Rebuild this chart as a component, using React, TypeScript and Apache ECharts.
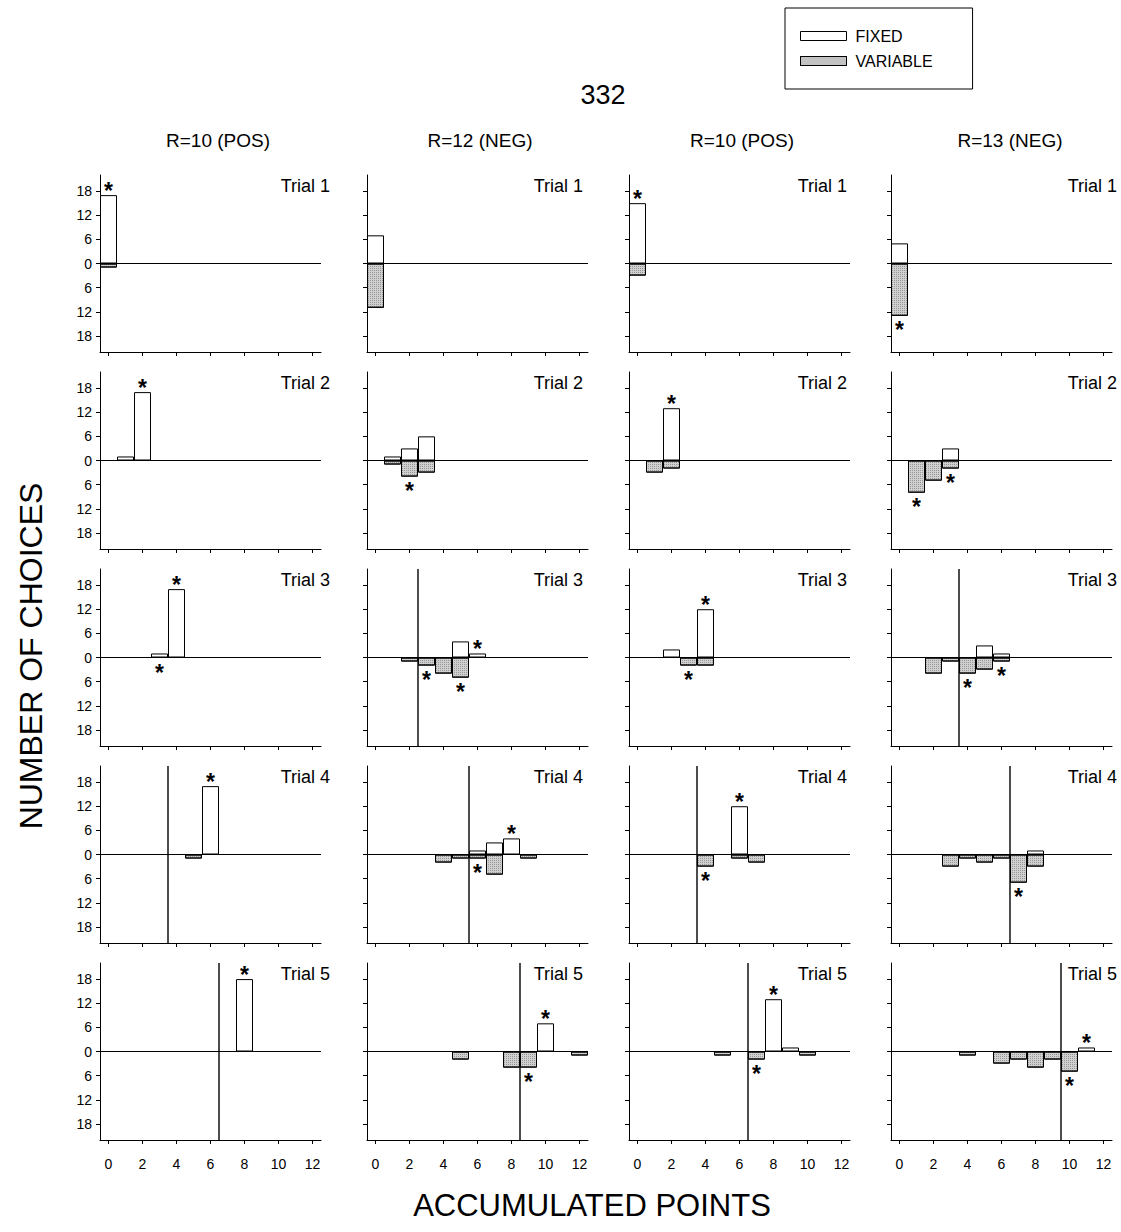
import React, { useEffect, useRef } from 'react';
import * as echarts from 'echarts';

const X_CATEGORIES = ['0', '1', '2', '3', '4', '5', '6', '7', '8', '9', '10', '11', '12'];
const Y_TICKS = [-18, -12, -6, 0, 6, 12, 18];
const Y_MIN = -22;
const Y_MAX = 22;
const MAIN_TITLE = '332';
const COLUMN_TITLES = ['R=10 (POS)', 'R=12 (NEG)', 'R=10 (POS)', 'R=13 (NEG)'];
const TRIAL_LABELS = ['Trial 1', 'Trial 2', 'Trial 3', 'Trial 4', 'Trial 5'];
const X_NAME = 'ACCUMULATED POINTS';
const Y_NAME = 'NUMBER OF CHOICES';
const LEGEND_NAMES = ['FIXED', 'VARIABLE'];

// ---- Column 1: R=10 (POS) ----
const FIXED_C1 = [
  [17, 0, 0, 0, 0, 0, 0, 0, 0, 0, 0, 0, 0],
  [0, 1, 17, 0, 0, 0, 0, 0, 0, 0, 0, 0, 0],
  [0, 0, 0, 1, 17, 0, 0, 0, 0, 0, 0, 0, 0],
  [0, 0, 0, 0, 0, 0, 17, 0, 0, 0, 0, 0, 0],
  [0, 0, 0, 0, 0, 0, 0, 0, 18, 0, 0, 0, 0],
];
const VARIABLE_C1 = [
  [1, 0, 0, 0, 0, 0, 0, 0, 0, 0, 0, 0, 0],
  [0, 0, 0, 0, 0, 0, 0, 0, 0, 0, 0, 0, 0],
  [0, 0, 0, 0, 0, 0, 0, 0, 0, 0, 0, 0, 0],
  [0, 0, 0, 0, 0, 1, 0, 0, 0, 0, 0, 0, 0],
  [0, 0, 0, 0, 0, 0, 0, 0, 0, 0, 0, 0, 0],
];
const STARS_ABOVE_C1 = [[0], [2], [4], [6], [8]];
const STARS_BELOW_C1 = [[], [], [3], [], []];
const CRITERION_C1 = [null, null, null, 3.5, 6.5];

// ---- Column 2: R=12 (NEG) ----
const FIXED_C2 = [
  [7, 0, 0, 0, 0, 0, 0, 0, 0, 0, 0, 0, 0],
  [0, 1, 3, 6, 0, 0, 0, 0, 0, 0, 0, 0, 0],
  [0, 0, 0, 0, 0, 4, 1, 0, 0, 0, 0, 0, 0],
  [0, 0, 0, 0, 0, 0, 1, 3, 4, 0, 0, 0, 0],
  [0, 0, 0, 0, 0, 0, 0, 0, 0, 0, 7, 0, 0],
];
const VARIABLE_C2 = [
  [11, 0, 0, 0, 0, 0, 0, 0, 0, 0, 0, 0, 0],
  [0, 1, 4, 3, 0, 0, 0, 0, 0, 0, 0, 0, 0],
  [0, 0, 1, 2, 4, 5, 0, 0, 0, 0, 0, 0, 0],
  [0, 0, 0, 0, 2, 1, 1, 5, 0, 1, 0, 0, 0],
  [0, 0, 0, 0, 0, 2, 0, 0, 4, 4, 0, 0, 1],
];
const STARS_ABOVE_C2 = [[], [], [6], [8], [10]];
const STARS_BELOW_C2 = [[], [2], [3, 5], [6], [9]];
const CRITERION_C2 = [null, null, 2.5, 5.5, 8.5];

// ---- Column 3: R=10 (POS) ----
const FIXED_C3 = [
  [15, 0, 0, 0, 0, 0, 0, 0, 0, 0, 0, 0, 0],
  [0, 0, 13, 0, 0, 0, 0, 0, 0, 0, 0, 0, 0],
  [0, 0, 2, 0, 12, 0, 0, 0, 0, 0, 0, 0, 0],
  [0, 0, 0, 0, 0, 0, 12, 0, 0, 0, 0, 0, 0],
  [0, 0, 0, 0, 0, 0, 0, 0, 13, 1, 0, 0, 0],
];
const VARIABLE_C3 = [
  [3, 0, 0, 0, 0, 0, 0, 0, 0, 0, 0, 0, 0],
  [0, 3, 2, 0, 0, 0, 0, 0, 0, 0, 0, 0, 0],
  [0, 0, 0, 2, 2, 0, 0, 0, 0, 0, 0, 0, 0],
  [0, 0, 0, 0, 3, 0, 1, 2, 0, 0, 0, 0, 0],
  [0, 0, 0, 0, 0, 1, 0, 2, 0, 0, 1, 0, 0],
];
const STARS_ABOVE_C3 = [[0], [2], [4], [6], [8]];
const STARS_BELOW_C3 = [[], [], [3], [4], [7]];
const CRITERION_C3 = [null, null, null, 3.5, 6.5];

// ---- Column 4: R=13 (NEG) ----
const FIXED_C4 = [
  [5, 0, 0, 0, 0, 0, 0, 0, 0, 0, 0, 0, 0],
  [0, 0, 0, 3, 0, 0, 0, 0, 0, 0, 0, 0, 0],
  [0, 0, 0, 0, 0, 3, 1, 0, 0, 0, 0, 0, 0],
  [0, 0, 0, 0, 0, 0, 0, 0, 1, 0, 0, 0, 0],
  [0, 0, 0, 0, 0, 0, 0, 0, 0, 0, 0, 1, 0],
];
const VARIABLE_C4 = [
  [13, 0, 0, 0, 0, 0, 0, 0, 0, 0, 0, 0, 0],
  [0, 8, 5, 2, 0, 0, 0, 0, 0, 0, 0, 0, 0],
  [0, 0, 4, 1, 4, 3, 1, 0, 0, 0, 0, 0, 0],
  [0, 0, 0, 3, 1, 2, 1, 7, 3, 0, 0, 0, 0],
  [0, 0, 0, 0, 1, 0, 3, 2, 4, 2, 5, 0, 0],
];
const STARS_ABOVE_C4 = [[], [], [], [], [11]];
const STARS_BELOW_C4 = [[0], [1, 3], [4, 6], [7], [10]];
const CRITERION_C4 = [null, null, 3.5, 6.5, 9.5];

const FIXED = [FIXED_C1, FIXED_C2, FIXED_C3, FIXED_C4];
const VARIABLE = [VARIABLE_C1, VARIABLE_C2, VARIABLE_C3, VARIABLE_C4];
const STARS_ABOVE = [STARS_ABOVE_C1, STARS_ABOVE_C2, STARS_ABOVE_C3, STARS_ABOVE_C4];
const STARS_BELOW = [STARS_BELOW_C1, STARS_BELOW_C2, STARS_BELOW_C3, STARS_BELOW_C4];
const CRITERION = [CRITERION_C1, CRITERION_C2, CRITERION_C3, CRITERION_C4];

// ---- layout / style ----
const FONT = "'Liberation Sans', Arial, Helvetica, sans-serif";
const GRID_LEFT = [100, 367, 629, 891];
const GRID_TOP = [175, 372, 569, 766, 963];
const GRID_W = 221;
const GRID_H = 177;
const TRIAL_X = [330, 583, 847, 1117];
const COL_TITLE_X = [218, 480, 742, 1010];
const VAR_COLOR = '#d0d0d0';
const VAR_DECAL = {
  symbol: 'rect',
  symbolSize: 1,
  color: 'rgba(0,0,0,0.28)',
  dashArrayX: [1, 1],
  dashArrayY: [1, 1],
  rotation: 0,
};

function buildOption() {
  const grid: any[] = [];
  const xAxis: any[] = [];
  const xAxisHidden: any[] = [];
  const yAxis: any[] = [];
  const series: any[] = [];
  const graphic: any[] = [];

  for (let r = 0; r < 5; r++) {
    for (let c = 0; c < 4; c++) {
      const idx = r * 4 + c;
      grid.push({ left: GRID_LEFT[c], top: GRID_TOP[r], width: GRID_W, height: GRID_H, containLabel: false });
      xAxis.push({
        type: 'category',
        gridIndex: idx,
        data: X_CATEGORIES,
        boundaryGap: true,
        axisLine: { show: true, onZero: false, lineStyle: { color: '#000', width: 1 } },
        axisTick: { show: true, interval: 1, alignWithLabel: true, length: 4, lineStyle: { color: '#000' } },
        axisLabel: { show: r === 4, interval: 1, fontSize: 14, color: '#000', margin: 17, fontFamily: FONT },
        splitLine: { show: false },
      });
      xAxisHidden.push({ type: 'value', gridIndex: idx, min: -0.5, max: 12.5, show: false });
      yAxis.push({
        type: 'value',
        gridIndex: idx,
        min: Y_MIN,
        max: Y_MAX,
        axisLine: { show: true, onZero: false, lineStyle: { color: '#000', width: 1 } },
        axisTick: { show: true, customValues: Y_TICKS, length: 4, lineStyle: { color: '#000' } },
        axisLabel: {
          show: c === 0,
          customValues: Y_TICKS,
          formatter: (v: number) => String(Math.abs(v)),
          fontSize: 14,
          color: '#000',
          margin: 8,
          fontFamily: FONT,
        },
        splitLine: { show: false },
      });

      const fixedVals = FIXED[c][r];
      const varVals = VARIABLE[c][r];
      const above = STARS_ABOVE[c][r];
      const below = STARS_BELOW[c][r];

      const fixedData = fixedVals.map((v, j) => {
        const star = above.includes(j);
        if (!star && v === 0) return '-';
        return star
          ? {
              value: v,
              label: {
                show: true,
                position: 'top',
                formatter: '*',
                fontSize: 23,
                fontWeight: 'bold',
                color: '#000',
                fontFamily: FONT,
                distance: -7,
              },
            }
          : v;
      });
      const varData = varVals.map((v, j) => {
        const star = below.includes(j);
        if (!star && v === 0) return '-';
        return star
          ? {
              value: -v,
              label: {
                show: true,
                position: 'bottom',
                formatter: '*',
                fontSize: 23,
                fontWeight: 'bold',
                color: '#000',
                fontFamily: FONT,
                distance: 3,
              },
            }
          : -v;
      });

      series.push({
        type: 'bar',
        name: 'FIXED',
        xAxisIndex: idx,
        yAxisIndex: idx,
        data: fixedData,
        barWidth: '100%',
        barGap: '-100%',
        itemStyle: { color: '#ffffff', borderColor: '#000', borderWidth: 1 },
        label: { show: false },
        silent: true,
        z: 2,
        markLine: {
          silent: true,
          symbol: ['none', 'none'],
          label: { show: false },
          lineStyle: { color: '#000', width: 1, type: 'solid' },
          data: [{ yAxis: 0 }],
          z: 3,
        },
      });
      series.push({
        type: 'bar',
        name: 'VARIABLE',
        xAxisIndex: idx,
        yAxisIndex: idx,
        data: varData,
        barWidth: '100%',
        barGap: '-100%',
        itemStyle: { color: VAR_COLOR, borderColor: '#000', borderWidth: 1, decal: VAR_DECAL },
        label: { show: false },
        silent: true,
        z: 2,
      });

      const crit = CRITERION[c][r];
      if (crit !== null) {
        series.push({
          type: 'line',
          xAxisIndex: 20 + idx,
          yAxisIndex: idx,
          data: [
            [crit, Y_MIN],
            [crit, Y_MAX],
          ],
          symbol: 'none',
          silent: true,
          lineStyle: { color: '#000', width: 1.4 },
          z: 4,
        });
      }

      graphic.push({
        type: 'text',
        x: TRIAL_X[c],
        y: GRID_TOP[r] + 11,
        style: {
          text: TRIAL_LABELS[r],
          fontSize: 18,
          fontFamily: FONT,
          fill: '#000',
          align: 'right',
          verticalAlign: 'middle',
        },
      });
    }
  }

  COLUMN_TITLES.forEach((t, c) => {
    graphic.push({
      type: 'text',
      x: COL_TITLE_X[c],
      y: 140,
      style: { text: t, fontSize: 19, fontFamily: FONT, fill: '#000', align: 'center', verticalAlign: 'middle' },
    });
  });
  graphic.push({
    type: 'text',
    x: 603,
    y: 95,
    style: { text: MAIN_TITLE, fontSize: 27, fontFamily: FONT, fill: '#000', align: 'center', verticalAlign: 'middle' },
  });
  graphic.push({
    type: 'text',
    x: 592,
    y: 1205,
    style: { text: X_NAME, fontSize: 31, fontFamily: FONT, fill: '#000', align: 'center', verticalAlign: 'middle' },
  });
  graphic.push({
    type: 'text',
    x: 31,
    y: 656,
    rotation: Math.PI / 2,
    style: { text: Y_NAME, fontSize: 32, fontFamily: FONT, fill: '#000', align: 'center', verticalAlign: 'middle' },
  });

  return {
    animation: false,
    backgroundColor: '#ffffff',
    legend: {
      left: 785,
      top: 8,
      orient: 'vertical',
      borderColor: '#000',
      borderWidth: 1,
      padding: [20, 40, 20, 15],
      itemGap: 9,
      itemWidth: 46,
      itemHeight: 9,
      selectedMode: false,
      textStyle: { fontSize: 16, fontFamily: FONT, color: '#000', padding: [0, 0, 0, 4] },
      data: [
        { name: LEGEND_NAMES[0], icon: 'rect', itemStyle: { color: '#fff', borderColor: '#000', borderWidth: 1 } },
        {
          name: LEGEND_NAMES[1],
          icon: 'rect',
          itemStyle: { color: VAR_COLOR, borderColor: '#000', borderWidth: 1, decal: VAR_DECAL },
        },
      ],
    },
    grid,
    xAxis: [...xAxis, ...xAxisHidden],
    yAxis,
    series,
    graphic,
  };
}

export default function App() {
  const ref = useRef<HTMLDivElement>(null);
  useEffect(() => {
    if (!ref.current) return;
    const chart = echarts.init(ref.current, null, { renderer: 'svg' });
    chart.setOption(buildOption() as any);
    return () => {
      chart.dispose();
    };
  }, []);
  return (
    <div
      ref={ref}
      style={{ position: 'absolute', left: 0, top: 0, width: 1121, height: 1232, background: '#fff' }}
    />
  );
}
